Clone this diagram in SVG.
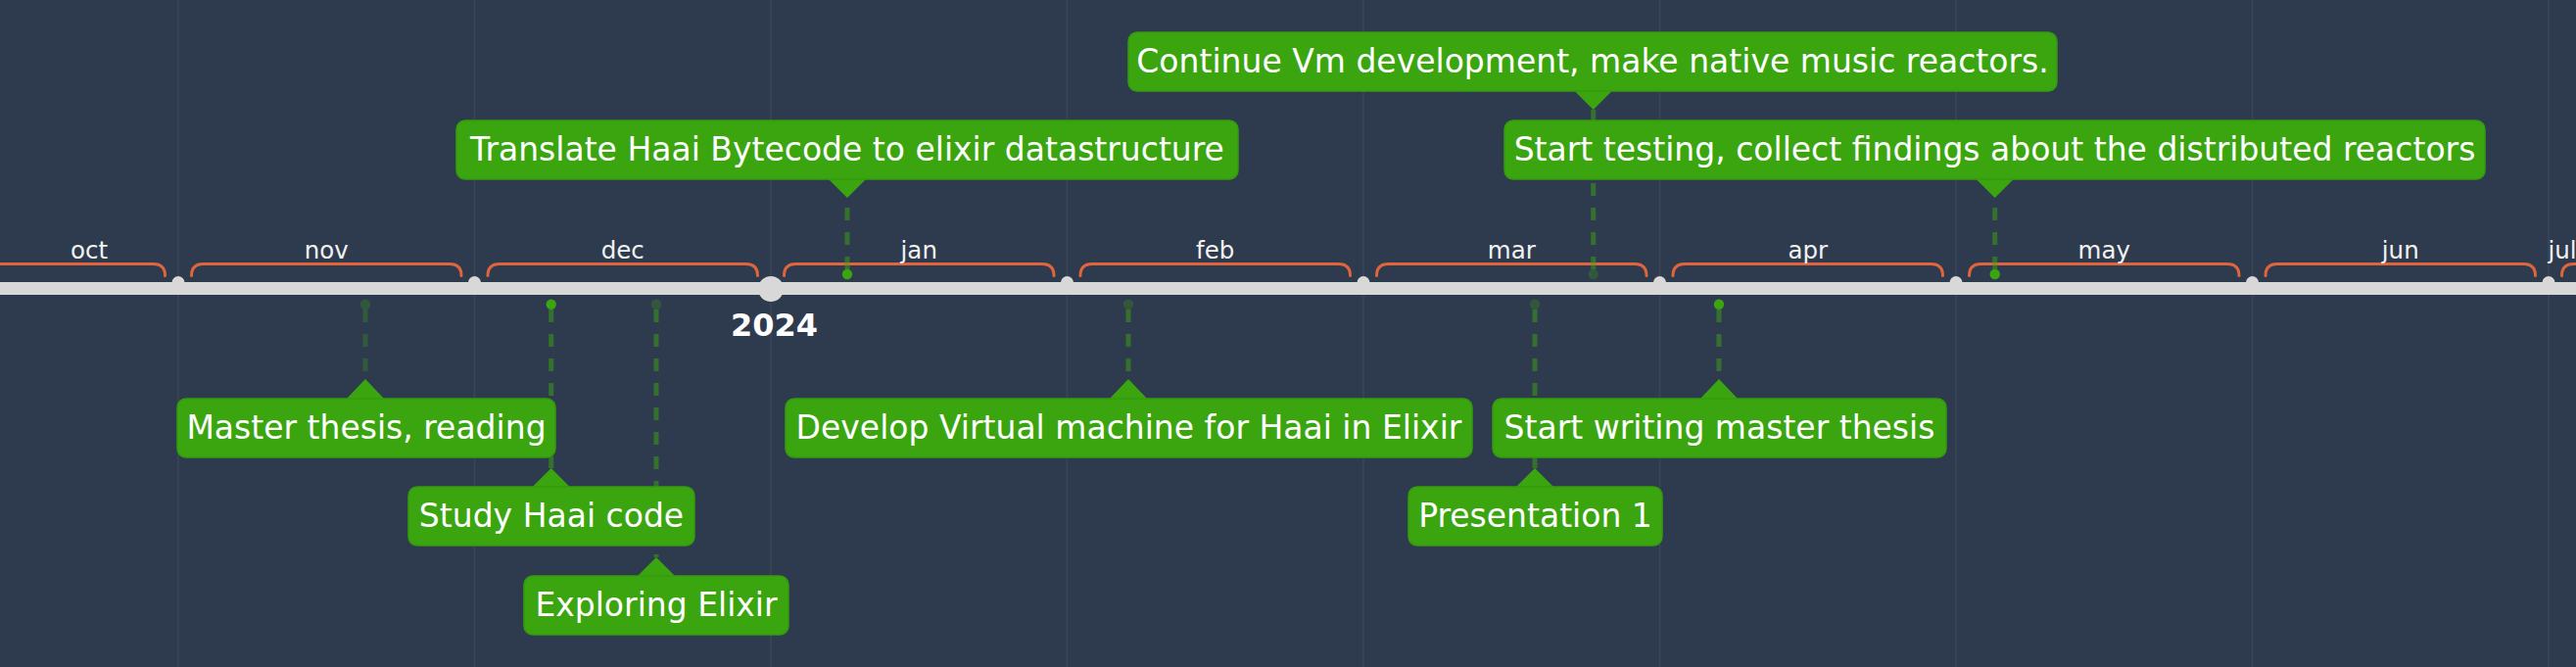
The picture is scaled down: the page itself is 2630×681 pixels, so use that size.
<svg xmlns="http://www.w3.org/2000/svg" width="2630" height="681" viewBox="0 0 2630 681">
<style>
.bg{fill:#2e3b4e}
.grid{stroke:#ffffff;stroke-opacity:0.06;stroke-width:1.6}
.bar{fill:#d8d8d8}
.sep{fill:#d8d8d8}
.brk{fill:none;stroke:#e0643c;stroke-width:3;stroke-linecap:round}
.mon{font-family:"DejaVu Sans",sans-serif;font-size:24.5px;fill:#f2f2f2;text-anchor:middle}
.year{font-family:"DejaVu Sans",sans-serif;font-size:32px;font-weight:bold;fill:#ffffff;text-anchor:middle}
.box{fill:#3ba510;stroke:#349a0e;stroke-width:1.5}
.ptr{fill:#3ba510}
.lbl{font-family:"DejaVu Sans",sans-serif;font-size:33px;fill:#ffffff;text-anchor:middle}
.dash{stroke:#3ba510;stroke-opacity:0.5;stroke-width:5;stroke-dasharray:13 12}
.dim{stroke-opacity:0.3}
.dot{fill:#3ba510}
.dotdim{fill:#3ba510;fill-opacity:0.28}
</style>
<rect class="bg" x="0" y="0" width="2630" height="681"/>
<g id="grid">
<line class="grid" x1="182" y1="0" x2="182" y2="681"/>
<line class="grid" x1="484.5" y1="0" x2="484.5" y2="681"/>
<line class="grid" x1="787" y1="0" x2="787" y2="681"/>
<line class="grid" x1="1089.5" y1="0" x2="1089.5" y2="681"/>
<line class="grid" x1="1392" y1="0" x2="1392" y2="681"/>
<line class="grid" x1="1694.5" y1="0" x2="1694.5" y2="681"/>
<line class="grid" x1="1997" y1="0" x2="1997" y2="681"/>
<line class="grid" x1="2299.5" y1="0" x2="2299.5" y2="681"/>
<line class="grid" x1="2602" y1="0" x2="2602" y2="681"/>
</g>
<g id="months">
<path class="brk" d="M-20,269.5 H156.5 Q168.5,269.5 168.5,281.5"/>
<path class="brk" d="M195.5,281.5 Q195.5,269.5 207.5,269.5 H459 Q471,269.5 471,281.5"/>
<path class="brk" d="M498,281.5 Q498,269.5 510,269.5 H761.5 Q773.5,269.5 773.5,281.5"/>
<path class="brk" d="M800.5,281.5 Q800.5,269.5 812.5,269.5 H1064 Q1076,269.5 1076,281.5"/>
<path class="brk" d="M1103,281.5 Q1103,269.5 1115,269.5 H1366.5 Q1378.5,269.5 1378.5,281.5"/>
<path class="brk" d="M1405.5,281.5 Q1405.5,269.5 1417.5,269.5 H1669 Q1681,269.5 1681,281.5"/>
<path class="brk" d="M1708,281.5 Q1708,269.5 1720,269.5 H1971.5 Q1983.5,269.5 1983.5,281.5"/>
<path class="brk" d="M2010.5,281.5 Q2010.5,269.5 2022.5,269.5 H2274 Q2286,269.5 2286,281.5"/>
<path class="brk" d="M2313,281.5 Q2313,269.5 2325,269.5 H2576.5 Q2588.5,269.5 2588.5,281.5"/>
<path class="brk" d="M2615.5,281.5 Q2615.5,269.5 2627.5,269.5 H2650"/>
<text class="mon" x="91" y="263.5">oct</text>
<text class="mon" x="333.25" y="263.5">nov</text>
<text class="mon" x="635.75" y="263.5">dec</text>
<text class="mon" x="938.25" y="263.5">jan</text>
<text class="mon" x="1240.75" y="263.5">feb</text>
<text class="mon" x="1543.25" y="263.5">mar</text>
<text class="mon" x="1845.75" y="263.5">apr</text>
<text class="mon" x="2148.25" y="263.5">may</text>
<text class="mon" x="2450.75" y="263.5">jun</text>
<text class="mon" x="2616" y="263.5">jul</text>
</g>
<g id="timeline">
<circle class="sep" cx="182" cy="288.5" r="6.5"/>
<circle class="sep" cx="484.5" cy="288.5" r="6.5"/>
<circle class="sep" cx="1089.5" cy="288.5" r="6.5"/>
<circle class="sep" cx="1392" cy="288.5" r="6.5"/>
<circle class="sep" cx="1694.5" cy="288.5" r="6.5"/>
<circle class="sep" cx="1997" cy="288.5" r="6.5"/>
<circle class="sep" cx="2299.5" cy="288.5" r="6.5"/>
<circle class="sep" cx="2602" cy="288.5" r="6.5"/>
<rect class="bar" x="0" y="288" width="2630" height="13"/>
<circle class="sep" cx="787" cy="295" r="13"/>
<text class="year" x="790.5" y="343">2024</text>
</g>
<g id="connectors">
<line class="dash dim" x1="373" y1="316" x2="373" y2="387"/>
<line class="dash" x1="562.7" y1="316" x2="562.7" y2="478"/>
<line class="dash" x1="670" y1="316" x2="670" y2="569"/>
<line class="dash" x1="1152" y1="316" x2="1152" y2="387"/>
<line class="dash" x1="1567" y1="316" x2="1567" y2="478"/>
<line class="dash" x1="1755" y1="316" x2="1755" y2="387"/>
<line class="dash" x1="865" y1="275" x2="865" y2="202"/>
<line class="dash" x1="1626.7" y1="275" x2="1626.7" y2="112"/>
<line class="dash" x1="2036.7" y1="275" x2="2036.7" y2="202"/>
<circle class="dotdim" cx="373" cy="310.7" r="5.2"/>
<circle class="dot" cx="562.7" cy="310.7" r="5.2"/>
<circle class="dotdim" cx="670" cy="310.7" r="5.2"/>
<circle class="dotdim" cx="1152" cy="310.7" r="5.2"/>
<circle class="dotdim" cx="1567" cy="310.7" r="5.2"/>
<circle class="dot" cx="1755" cy="310.7" r="5.2"/>
<circle class="dot" cx="865" cy="280" r="5.2"/>
<circle class="dotdim" cx="1626.7" cy="280" r="5.2"/>
<circle class="dot" cx="2036.7" cy="280" r="5.2"/>
</g>
<g id="ev-master-thesis">
<path class="ptr" d="M353,408 L373,387 L393,408 Z"/>
<rect class="box" x="181" y="407" width="386" height="60" rx="9"/>
<text class="lbl" x="374" y="447.5">Master thesis, reading</text>
</g>
<g id="ev-study-haai">
<path class="ptr" d="M542.7,498 L562.7,478 L582.7,498 Z"/>
<rect class="box" x="417" y="497" width="292" height="60" rx="9"/>
<text class="lbl" x="563" y="537.5">Study Haai code</text>
</g>
<g id="ev-exploring-elixir">
<path class="ptr" d="M650,589 L670,569 L690,589 Z"/>
<rect class="box" x="535" y="588" width="270" height="60" rx="9"/>
<text class="lbl" x="670" y="628.5">Exploring Elixir</text>
</g>
<g id="ev-develop-vm">
<path class="ptr" d="M1132,408 L1152,387 L1172,408 Z"/>
<rect class="box" x="802" y="407" width="701" height="60" rx="9"/>
<text class="lbl" x="1152.5" y="447.5">Develop Virtual machine for Haai in Elixir</text>
</g>
<g id="ev-presentation-1">
<path class="ptr" d="M1547,498 L1567,478 L1587,498 Z"/>
<rect class="box" x="1438" y="497" width="259" height="60" rx="9"/>
<text class="lbl" x="1567.5" y="537.5">Presentation 1</text>
</g>
<g id="ev-start-writing">
<path class="ptr" d="M1735,408 L1755,387 L1775,408 Z"/>
<rect class="box" x="1524" y="407" width="463" height="60" rx="9"/>
<text class="lbl" x="1755.5" y="447.5">Start writing master thesis</text>
</g>
<g id="ev-translate">
<path class="ptr" d="M845,182 L865,202 L885,182 Z"/>
<rect class="box" x="466" y="123" width="798" height="60" rx="9"/>
<text class="lbl" x="865" y="163.5">Translate Haai Bytecode to elixir datastructure</text>
</g>
<g id="ev-continue-vm">
<path class="ptr" d="M1606.7,92 L1626.7,112 L1646.7,92 Z"/>
<rect class="box" x="1152" y="33" width="948" height="60" rx="9"/>
<text class="lbl" x="1626" y="73.5">Continue Vm development, make native music reactors.</text>
</g>
<g id="ev-start-testing">
<path class="ptr" d="M2016.7,182 L2036.7,202 L2056.7,182 Z"/>
<rect class="box" x="1536" y="123" width="1001" height="60" rx="9"/>
<text class="lbl" x="2036.5" y="163.5">Start testing, collect findings about the distributed reactors</text>
</g>
</svg>
